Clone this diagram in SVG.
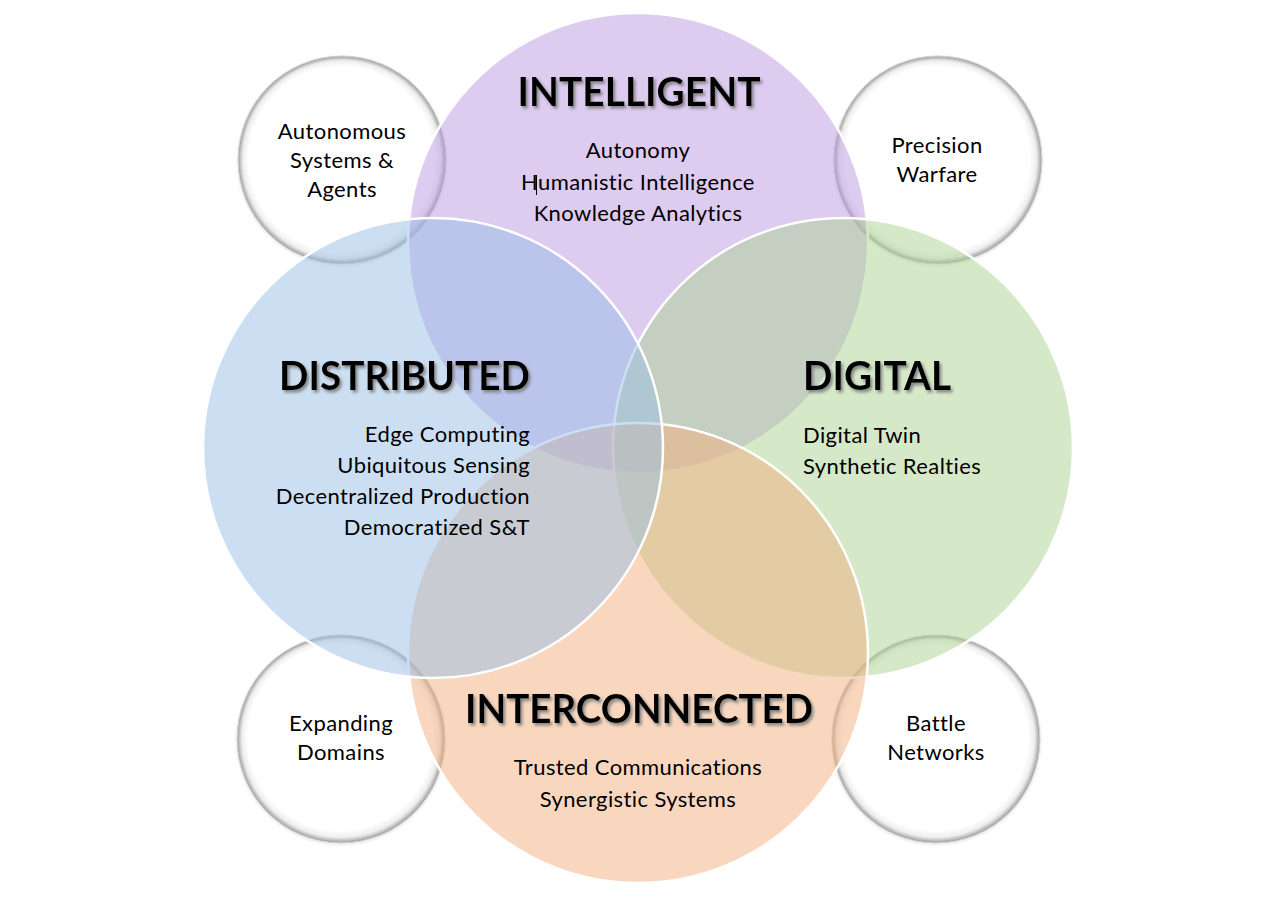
<svg xmlns="http://www.w3.org/2000/svg" width="1285" height="907" viewBox="0 0 1285 907">
<defs>
<radialGradient id="bevel" cx="50%" cy="50%" r="50%" fx="47%" fy="45%">
<stop offset="0" stop-color="#ffffff"/>
<stop offset="0.89" stop-color="#ffffff"/>
<stop offset="0.95" stop-color="#eeeeee"/>
<stop offset="0.985" stop-color="#b4b4b4"/>
<stop offset="1" stop-color="#9a9a9a"/>
</radialGradient>
<filter id="shadow" x="-10%" y="-30%" width="120%" height="160%">
<feDropShadow dx="2" dy="2.5" stdDeviation="1.6" flood-color="#7a7a7a" flood-opacity="0.9"/>
</filter>
<filter id="soft" x="-10%" y="-10%" width="120%" height="120%">
<feDropShadow dx="0" dy="1" stdDeviation="1.5" flood-color="#000" flood-opacity="0.12"/>
</filter>
</defs>
<style>
.small{fill:url(#bevel);stroke:#d4d4d4;stroke-width:1;filter:url(#soft)}
.big{stroke:#ffffff;stroke-width:2.5}
.title{font-family:Lato,"Liberation Sans",sans-serif;font-weight:bold;font-size:40px;fill:#000;filter:url(#shadow)}
.body{font-family:Lato,"Liberation Sans",sans-serif;font-size:22px;letter-spacing:0.4px;fill:#000;font-variant-ligatures:none}
.mid{text-anchor:middle}
.end{text-anchor:end}
</style>
<rect width="1285" height="907" fill="#ffffff"/>

<g id="node-autonomous-systems">
<circle class="small" cx="342" cy="160" r="104"/>
<text class="body mid" x="342" y="139">Autonomous</text>
<text class="body mid" x="342" y="168">Systems &amp;</text>
<text class="body mid" x="342" y="197">Agents</text>
</g>
<g id="node-precision-warfare">
<circle class="small" cx="938" cy="160" r="104"/>
<text class="body mid" x="937" y="153">Precision</text>
<text class="body mid" x="937" y="182">Warfare</text>
</g>
<g id="node-expanding-domains">
<circle class="small" cx="341" cy="739" r="104"/>
<text class="body mid" x="341" y="731">Expanding</text>
<text class="body mid" x="341" y="760">Domains</text>
</g>
<g id="node-battle-networks">
<circle class="small" cx="936" cy="739" r="104"/>
<text class="body mid" x="936" y="731">Battle</text>
<text class="body mid" x="936" y="760">Networks</text>
</g>

<g id="node-intelligent-circle">
<circle class="big" cx="638" cy="243" r="230" fill="rgb(187,151,225)" fill-opacity="0.5"/>
</g>
<g id="node-digital-circle">
<circle class="big" cx="843" cy="448" r="230" fill="rgb(171,209,145)" fill-opacity="0.5"/>
</g>
<g id="node-interconnected-circle">
<circle class="big" cx="638" cy="653" r="230" fill="rgb(241,175,125)" fill-opacity="0.5"/>
</g>
<g id="node-distributed-circle">
<circle class="big" cx="433" cy="448" r="230" fill="rgb(153,191,229)" fill-opacity="0.5"/>
</g>

<g id="node-intelligent">
<text class="title mid" x="639" y="106" textLength="243" lengthAdjust="spacingAndGlyphs">INTELLIGENT</text>
<text class="body mid" x="638" y="158">Autonomy</text>
<text class="body mid" x="638" y="190">Humanistic Intelligence</text>
<line x1="536.5" y1="175" x2="536.5" y2="195" stroke="#000" stroke-width="1"/>
<text class="body mid" x="638" y="221">Knowledge Analytics</text>
</g>
<g id="node-distributed">
<text class="title" x="279" y="390" textLength="251" lengthAdjust="spacingAndGlyphs">DISTRIBUTED</text>
<text class="body end" x="530" y="442">Edge Computing</text>
<text class="body end" x="530" y="473">Ubiquitous Sensing</text>
<text class="body end" x="530" y="504">Decentralized Production</text>
<text class="body end" x="530" y="535">Democratized S&amp;T</text>
</g>
<g id="node-digital">
<text class="title" x="803" y="390" textLength="148" lengthAdjust="spacingAndGlyphs">DIGITAL</text>
<text class="body" x="803" y="443">Digital Twin</text>
<text class="body" x="803" y="474">Synthetic Realties</text>
</g>
<g id="node-interconnected">
<text class="title mid" x="639" y="723" textLength="348" lengthAdjust="spacingAndGlyphs">INTERCONNECTED</text>
<text class="body mid" x="638" y="775">Trusted Communications</text>
<text class="body mid" x="638" y="807">Synergistic Systems</text>
</g>
<g id="connectors"></g>
</svg>
